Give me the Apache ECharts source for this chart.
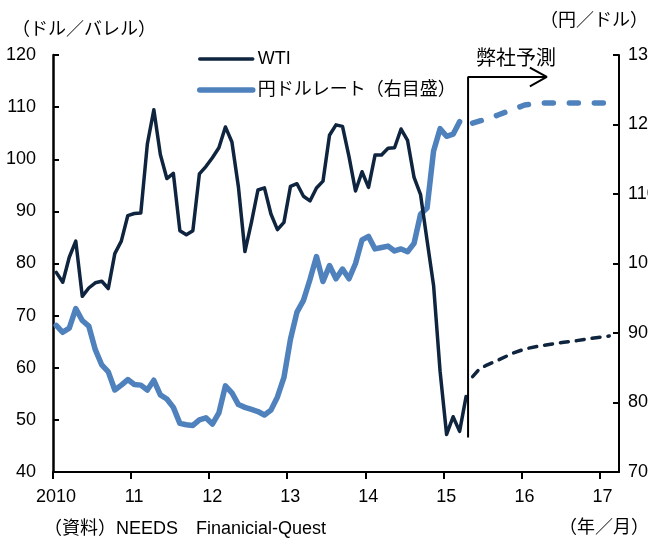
<!DOCTYPE html>
<html><head><meta charset="utf-8">
<script src="https://cdn.jsdelivr.net/npm/echarts@6/dist/echarts.min.js"></script>
<style>html,body{margin:0;padding:0;background:#fff}#c{width:648px;height:542px}</style>
</head><body><div id="c"></div>
<script>
// ---- data ----
const xTickLabels = ['2010','11','12','13','14','15','16','17'];
// monthly averages, Jan 2010 .. Apr 2015 (ドル/バレル)
const wti = [
  78.3, 76.4, 81.2, 84.3, 73.7, 75.3, 76.3, 76.6, 75.2, 81.9, 84.3, 89.2,
  89.6, 89.7, 102.9, 109.5, 100.9, 96.3, 97.3, 86.3, 85.5, 86.3, 97.2, 98.6,
  100.3, 102.2, 106.2, 103.3, 94.7, 82.3, 87.9, 94.1, 94.5, 89.5, 86.5, 87.9,
  94.8, 95.3, 92.9, 92.0, 94.5, 95.8, 104.6, 106.6, 106.3, 100.5, 93.9, 97.6,
  94.6, 100.8, 100.8, 102.1, 102.2, 105.8, 103.6, 96.5, 93.2, 84.4, 75.8, 59.3,
  47.2, 50.6, 47.8, 54.5
];
// monthly averages, Jan 2010 .. Mar 2015 (円/ドル)
const usdjpy = [
  91.1, 90.1, 90.7, 93.5, 91.8, 91.0, 87.6, 85.4, 84.4, 81.8, 82.5, 83.3,
  82.6, 82.5, 81.8, 83.2, 81.1, 80.5, 79.3, 77.0, 76.8, 76.7, 77.5, 77.8,
  76.9, 78.5, 82.4, 81.4, 79.7, 79.3, 79.0, 78.7, 78.2, 78.9, 80.8, 83.6,
  89.1, 93.0, 94.7, 97.7, 101.0, 97.4, 99.7, 97.8, 99.2, 97.8, 100.0, 103.4,
  103.9, 102.1, 102.3, 102.5, 101.8, 102.1, 101.7, 102.9, 107.1, 108.0, 116.2, 119.4,
  118.3, 118.6, 120.4
];
// forecast (弊社予測): month index from Jan 2010 = 0
const fcMonths = [64, 65, 66, 68, 70, 72, 74, 76, 78, 80, 82, 84, 85];
const wtiForecast = [58.3, 59.7, 60.4, 61.5, 62.7, 63.6, 64.1, 64.5, 64.9, 65.2, 65.6, 65.9, 66.1];
const usdjpyForecast = [120.2, 120.5, 120.7, 121.4, 122.1, 122.8, 123.1, 123.1, 123.1, 123.1, 123.1, 123.1, 123.1];
// forecast marker (month position, left-axis values)
const fcLineMonth = 63.8, fcArrowEndMonth = 75.9, fcLineBottom = 46.6, fcLineTop = 115.8;

// ---- chart ----
const FONT = "'Liberation Sans','Noto Sans CJK JP',sans-serif";
const WTI_C = '#0F243E', JPY_C = '#4F81BD';
const mid = (arr) => arr.map((v, i) => [i + 0.5, v]);
const fc = (arr) => arr.map((v, i) => [fcMonths[i] + 0.5, v]);
const yearTicks = xTickLabels.map((_, i) => i * 12);

const chart = echarts.init(document.getElementById('c'), null, {renderer: 'canvas', width: 648, height: 542});
chart.setOption({
  animation: false,
  backgroundColor: '#fff',
  grid: {left: 53, right: 29, top: 55, bottom: 70, containLabel: false, outerBoundsMode: 'none'},
  legend: {
    data: ['WTI', '円ドルレート（右目盛）'],
    orient: 'vertical', left: 192, top: 44,
    itemWidth: 53, itemHeight: 2, itemGap: 11,
    selectedMode: false,
    lineStyle: {width: 'inherit', cap: 'round'},
    textStyle: {fontSize: 18, color: '#000', fontFamily: FONT, lineHeight: 20}
  },
  xAxis: {
    type: 'value', min: 0, max: 87, interval: 12,
    axisLine: {show: true, lineStyle: {color: '#000', width: 2}},
    axisTick: {show: true, inside: false, length: 7, lineStyle: {color: '#000', width: 2}, customValues: yearTicks},
    axisLabel: {customValues: yearTicks, formatter: v => xTickLabels[Math.round(v / 12)], fontSize: 18, color: '#000', fontFamily: FONT, margin: 16, padding: [0, 0, 0, 6]},
    splitLine: {show: false}
  },
  yAxis: [
    {type: 'value', min: 40, max: 120, interval: 10, position: 'left',
     axisLine: {show: true, lineStyle: {color: '#000', width: 2.5}},
     axisTick: {show: true, inside: true, length: 6, lineStyle: {color: '#000', width: 2}},
     axisLabel: {fontSize: 18, color: '#000', fontFamily: FONT, margin: 17},
     splitLine: {show: false}},
    {type: 'value', min: 70, max: 130, interval: 10, position: 'right',
     axisLine: {show: true, lineStyle: {color: '#000', width: 2}},
     axisTick: {show: true, inside: true, length: 6, lineStyle: {color: '#000', width: 2}},
     axisLabel: {fontSize: 18, color: '#000', fontFamily: FONT, margin: 9},
     splitLine: {show: false}}
  ],
  series: [
    {name: '円ドルレート（右目盛）', type: 'line', yAxisIndex: 1, data: mid(usdjpy), symbol: 'none', color: JPY_C,
     lineStyle: {color: JPY_C, width: 5.5, cap: 'round', join: 'round'}},
    {name: 'WTI', type: 'line', yAxisIndex: 0, data: mid(wti), symbol: 'none', color: WTI_C,
     lineStyle: {color: WTI_C, width: 3.5, cap: 'round', join: 'round'}},
    {name: '円ドル予測', type: 'line', yAxisIndex: 1, data: fc(usdjpyForecast), symbol: 'none',
     lineStyle: {color: JPY_C, width: 5.5, type: [9, 16], cap: 'round'}},
    {name: 'WTI予測', type: 'line', yAxisIndex: 0, data: fc(wtiForecast), symbol: 'none',
     lineStyle: {color: WTI_C, width: 3.5, type: [8, 8], cap: 'round'}},
    {name: 'bracket', type: 'line', yAxisIndex: 0, silent: true, symbol: 'none',
     data: [[fcLineMonth, fcLineBottom], [fcLineMonth, fcLineTop], [fcArrowEndMonth, fcLineTop]],
     lineStyle: {color: '#000', width: 2}},
    {name: 'arrow', type: 'line', yAxisIndex: 0, silent: true, symbol: 'none',
     data: [[fcArrowEndMonth - 2.6, fcLineTop + 1.8], [fcArrowEndMonth, fcLineTop], [fcArrowEndMonth - 2.6, fcLineTop - 1.8]],
     lineStyle: {color: '#000', width: 2}}
  ],
  graphic: [
    {type: 'text', style: {x: 12, y: 30, text: '（ドル／バレル）', font: "18px " + FONT, fill: '#000', textVerticalAlign: 'middle', verticalAlign: 'middle'}},
    {type: 'text', style: {x: 540, y: 21, text: '（円／ドル）', font: "18px " + FONT, fill: '#000', textVerticalAlign: 'middle', verticalAlign: 'middle'}},
    {type: 'text', style: {x: 476, y: 59, text: '弊社予測', font: "20px " + FONT, fill: '#000', textVerticalAlign: 'middle', verticalAlign: 'middle'}},
    {type: 'text', style: {x: 559, y: 528, text: '（年／月）', font: "18px " + FONT, fill: '#000', textVerticalAlign: 'middle', verticalAlign: 'middle'}},
    {type: 'text', style: {x: 44, y: 529, text: '（資料）NEEDS　Finanicial-Quest', font: "18px " + FONT, fill: '#000', textVerticalAlign: 'middle', verticalAlign: 'middle'}}
  ]
});
</script></body></html>
